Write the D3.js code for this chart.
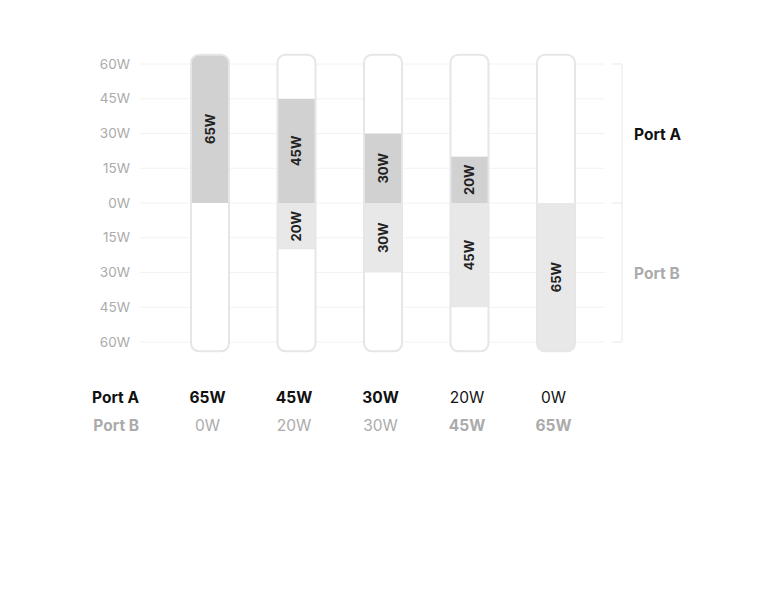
<!DOCTYPE html>
<html><head><meta charset="utf-8">
<script src="https://cdn.jsdelivr.net/npm/d3@7"></script>
<style>body{margin:0;background:#fff;font-family:Inter,"Noto Sans",sans-serif;}</style>
</head><body><svg id="c" width="767" height="596"></svg>
<script>
const configs = ["c1","c2","c3","c4","c5"];
const portA = [65,45,30,20,0];
const portB = [0,20,30,45,65];
const tickVals = [60,45,30,15,0,-15,-30,-45,-60];
const tickLabels = ["60W","45W","30W","15W","0W","15W","30W","45W","60W"];

const svg = d3.select("#c");
const y = d3.scaleLinear().domain([-60,60]).range([342,64]);
const x = d3.scalePoint().domain(configs).range([210,556]);
const bw = 38;
const contTop = y(64), contBot = y(-64);

// gridlines
svg.append("g").selectAll("line").data(tickVals).join("line")
  .attr("x1",140).attr("x2",605).attr("y1",d=>y(d)).attr("y2",d=>y(d))
  .attr("stroke","#f2f2f2").attr("stroke-width",1);
// y labels
svg.append("g").selectAll("text").data(tickVals).join("text")
  .attr("x",130).attr("y",d=>y(d)).attr("dy","0.35em").attr("text-anchor","end")
  .attr("fill","#ababab").attr("font-size",13.5).text((d,i)=>tickLabels[i]);

// bracket
const br = svg.append("g").attr("stroke","#ececec").attr("stroke-width",1.2).attr("fill","none");
br.append("line").attr("x1",622).attr("x2",622).attr("y1",y(60)).attr("y2",y(-60));
[60,0,-60].forEach(v=>br.append("line").attr("x1",612).attr("x2",622).attr("y1",y(v)).attr("y2",y(v)));

svg.append("text").attr("x",634).attr("y",(y(60)+y(0))/2+1).attr("dy","0.35em")
  .attr("font-weight",700).attr("font-size",15.5).attr("fill","#111").text("Port A");
svg.append("text").attr("x",634).attr("y",(y(0)+y(-60))/2+1).attr("dy","0.35em")
  .attr("font-weight",700).attr("font-size",15.5).attr("fill","#ababab").text("Port B");

const defs = svg.append("defs");
configs.forEach((c,i)=>{
  const cx = x(c);
  defs.append("clipPath").attr("id","clip"+i).append("rect")
    .attr("x",cx-bw/2).attr("y",contTop).attr("width",bw).attr("height",contBot-contTop).attr("rx",8);
  const g = svg.append("g");
  g.append("rect").attr("x",cx-bw/2).attr("y",contTop).attr("width",bw).attr("height",contBot-contTop)
    .attr("rx",8).attr("fill","#fff");
  const gc = g.append("g").attr("clip-path",`url(#clip${i})`);
  if(portA[i]>0){
    gc.append("rect").attr("x",cx-bw/2).attr("y",y(portA[i])).attr("width",bw)
      .attr("height",y(0)-y(portA[i])).attr("fill","#d1d1d1");
  }
  if(portB[i]>0){
    gc.append("rect").attr("x",cx-bw/2).attr("y",y(0)).attr("width",bw)
      .attr("height",y(-portB[i])-y(0)).attr("fill","#e8e8e8");
  }
  g.append("rect").attr("x",cx-bw/2).attr("y",contTop).attr("width",bw).attr("height",contBot-contTop)
    .attr("rx",8).attr("fill","none").attr("stroke","#e6e6e6").attr("stroke-width",2);
  const lbl = (val,ymid)=>{
    g.append("text").attr("transform",`translate(${cx},${ymid}) rotate(-90)`)
      .attr("text-anchor","middle").attr("dy","0.35em").attr("font-weight",700)
      .attr("font-size",13).attr("fill","#222").text(val+"W");
  };
  if(portA[i]>0) lbl(portA[i], (Math.max(y(portA[i]),contTop)+y(0))/2);
  if(portB[i]>0) lbl(portB[i], (Math.min(y(-portB[i]),contBot)+y(0))/2);
});

// bottom table
svg.append("text").attr("x",139).attr("y",398).attr("dy","0.35em").attr("text-anchor","end")
  .attr("font-weight",700).attr("font-size",15.5).attr("fill","#111").text("Port A");
svg.append("text").attr("x",139).attr("y",426).attr("dy","0.35em").attr("text-anchor","end")
  .attr("font-weight",700).attr("font-size",15.5).attr("fill","#ababab").text("Port B");
svg.append("g").selectAll("text").data(configs).join("text")
  .attr("x",d=>x(d)-2.5).attr("y",398).attr("dy","0.35em").attr("text-anchor","middle")
  .attr("font-size",15.5).attr("fill","#111")
  .attr("font-weight",(d,i)=>portA[i]>=portB[i]?700:400).text((d,i)=>portA[i]+"W");
svg.append("g").selectAll("text").data(configs).join("text")
  .attr("x",d=>x(d)-2.5).attr("y",426).attr("dy","0.35em").attr("text-anchor","middle")
  .attr("font-size",15.5).attr("fill","#ababab")
  .attr("font-weight",(d,i)=>portB[i]>portA[i]?700:400).text((d,i)=>portB[i]+"W");
</script></body></html>
